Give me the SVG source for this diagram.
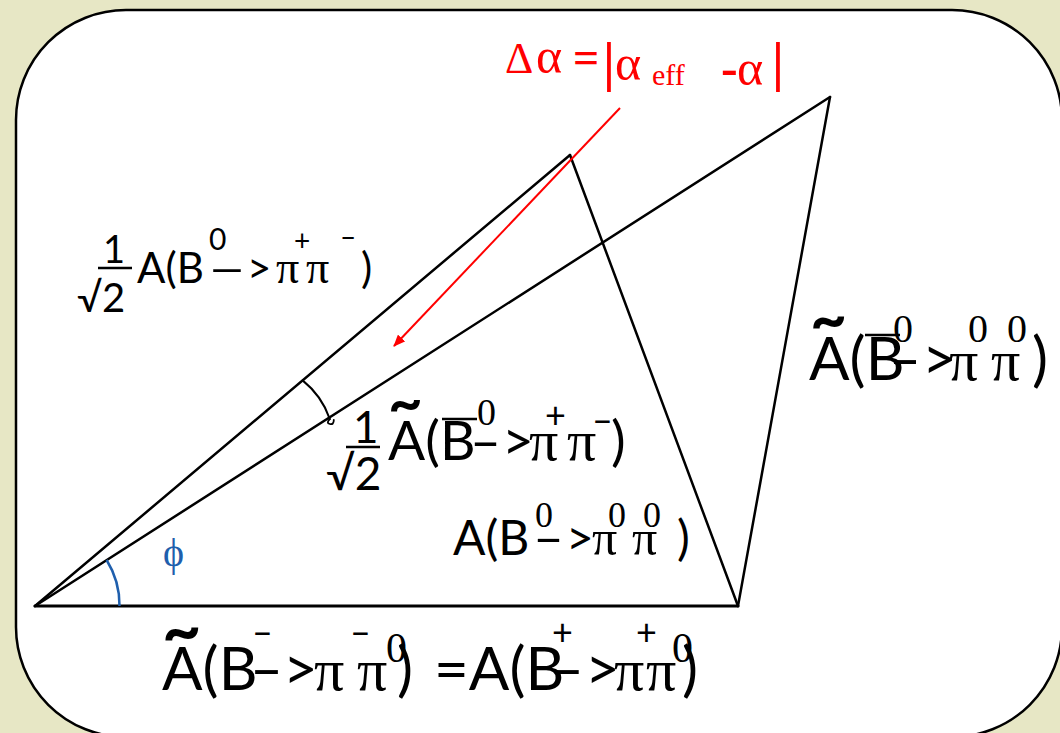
<svg xmlns="http://www.w3.org/2000/svg" width="1060" height="733" viewBox="0 0 1060 733">
<defs>
<style>
.s{font-family:Lato,"Liberation Sans","DejaVu Sans",sans-serif;fill:#000}
.r{font-family:"Liberation Serif","DejaVu Serif",serif;fill:#000}
.ln{stroke:#000;stroke-width:2.5;fill:none;stroke-linecap:round}
.bar{stroke:#000;stroke-width:2.5}
.red{font-family:"Liberation Serif","DejaVu Serif",serif;fill:#ff0000}
</style>
<marker id="ah" markerWidth="12" markerHeight="10" refX="11" refY="5" orient="auto" markerUnits="userSpaceOnUse">
<path d="M0,0 L12,5 L0,10 z" fill="#ff0000"/>
</marker>
</defs>
<rect width="1060" height="733" fill="#e7e7c5"/>
<g id="frame">
<rect x="16" y="10" width="1046" height="727" rx="110" ry="110" fill="#ffffff" stroke="#000" stroke-width="2.5"/>
</g>
<g id="connectors">
<line class="ln" x1="35" y1="606" x2="738" y2="606" style="stroke-width:3"/>
<line class="ln" x1="35" y1="606" x2="570" y2="155"/>
<line class="ln" x1="35" y1="606" x2="830" y2="97"/>
<line class="ln" x1="570" y1="155" x2="738" y2="606"/>
<line class="ln" x1="830" y1="97" x2="738" y2="606"/>
<line x1="620" y1="108" x2="394" y2="346" stroke="#ff0000" stroke-width="2" marker-end="url(#ah)"/>
</g>
<g id="angle-marks">
<path class="ln" d="M302.6,380.4 Q322,396 329.8,419" style="stroke-width:2"/>
<path class="ln" d="M329.8,419 q-4,4 0,5 q4,1 4,-4" style="stroke-width:1.8"/>
<path d="M106.6,560 A85,85 0 0 1 119.5,606" fill="none" stroke="#1f5fad" stroke-width="2.5"/>
</g>
<g id="label-phi">
<text x="163" y="566" font-family="Liberation Serif,serif" font-size="40" fill="#1f5fad">ϕ</text>
</g>
<g id="label-delta-alpha">
<text class="red" y="73"><tspan x="505" font-size="44">Δ</tspan><tspan x="536" font-size="50">α</tspan><tspan x="573" font-size="46" font-weight="bold">=</tspan><tspan x="603" y="80" font-size="54" font-weight="bold">|</tspan><tspan x="615" font-size="50">α</tspan><tspan x="652" y="85" font-size="30">eff</tspan><tspan x="721" font-size="50" font-weight="bold">-</tspan><tspan x="737" font-size="50">α</tspan><tspan x="772" y="80" font-size="54" font-weight="bold">|</tspan></text>
</g>
<g id="label-pipm">
<text class="s" font-size="38" x="103" y="263">1</text>
<line class="bar" x1="98" y1="268" x2="132" y2="268"/>
<text class="s" font-size="40" x="77" y="312">√2</text>
<text class="s" font-size="42" y="283"><tspan x="137">A(B</tspan><tspan x="209" y="250" font-size="30">0</tspan></text>
<text class="s" font-size="42" x="207" y="283" textLength="40" lengthAdjust="spacingAndGlyphs">–</text>
<text class="s" font-size="42" x="247" y="283">&gt;</text>
<text class="r" font-size="46" y="283"><tspan x="276">π</tspan><tspan x="306">π</tspan></text>
<text class="s" font-size="28" y="251"><tspan x="294">+</tspan><tspan x="340" y="247">–</tspan></text>
<text class="s" font-size="42" x="361" y="283">)</text>
</g>
<g id="label-tilde-pipm">
<text class="s" font-size="44" x="353" y="443">1</text>
<line class="bar" x1="346" y1="447" x2="380" y2="447"/>
<text class="s" font-size="46" x="326" y="490">√2</text>
<text class="s" font-size="60" font-weight="bold" x="388" y="423">~</text>
<text class="s" font-size="55" x="388" y="460">A(B</text>
<text class="s" font-size="55" x="470" y="460" textLength="31" lengthAdjust="spacingAndGlyphs">–</text>
<text class="s" font-size="55" x="502" y="460">&gt;</text>
<line class="bar" x1="442" y1="419" x2="477" y2="419"/>
<text class="r" font-size="38" x="477" y="425">0</text>
<text class="r" font-size="58" y="460"><tspan x="529">π</tspan><tspan x="567">π</tspan></text>
<text class="s" font-size="36" y="428"><tspan x="545">+</tspan><tspan x="592" y="433">–</tspan></text>
<text class="s" font-size="55" x="611" y="460">)</text>
</g>
<g id="label-tilde-pi0pi0">
<text class="s" font-size="64" font-weight="bold" x="810" y="341">~</text>
<text class="s" font-size="60" x="809" y="380">A(B</text>
<text class="s" font-size="60" x="889" y="380" textLength="32" lengthAdjust="spacingAndGlyphs">–</text>
<text class="s" font-size="60" x="922" y="380">&gt;</text>
<line class="bar" x1="865" y1="335" x2="900" y2="335"/>
<text class="r" font-size="40" y="342"><tspan x="893">0</tspan><tspan x="968">0</tspan><tspan x="1007">0</tspan></text>
<text class="r" font-size="58" y="380"><tspan x="949">π</tspan><tspan x="991">π</tspan></text>
<text class="s" font-size="60" x="1032" y="380">)</text>
</g>
<g id="label-pi0pi0">
<text class="s" font-size="48" x="453" y="555">A(B</text>
<text class="s" font-size="48" x="533" y="555" textLength="31" lengthAdjust="spacingAndGlyphs">–</text>
<text class="s" font-size="48" x="566" y="555">&gt;</text>
<text class="r" font-size="36" y="527"><tspan x="535">0</tspan><tspan x="608">0</tspan><tspan x="643">0</tspan></text>
<text class="r" font-size="50" y="555"><tspan x="592">π</tspan><tspan x="632">π</tspan></text>
<text class="s" font-size="48" x="677" y="555">)</text>
</g>
<g id="label-pimpi0">
<text class="s" font-size="68" font-weight="bold" x="162" y="654">~</text>
<text class="s" font-size="60" y="690"><tspan x="162">A(B</tspan><tspan x="283">&gt;</tspan><tspan x="397">)</tspan><tspan x="434">=A(B</tspan><tspan x="585">&gt;</tspan><tspan x="682">)</tspan></text>
<text class="s" font-size="60" x="250" y="690" textLength="33" lengthAdjust="spacingAndGlyphs">–</text>
<text class="s" font-size="60" x="550" y="690" textLength="34" lengthAdjust="spacingAndGlyphs">–</text>
<text class="s" font-size="36" y="645"><tspan x="252">–</tspan><tspan x="350">–</tspan><tspan x="552">+</tspan><tspan x="636">+</tspan></text>
<text class="r" font-size="60" y="690"><tspan x="314">π</tspan><tspan x="357">π</tspan><tspan x="614">π</tspan><tspan x="646">π</tspan></text>
<text class="r" font-size="42" y="662"><tspan x="386">0</tspan><tspan x="672">0</tspan></text>
</g>
</svg>
